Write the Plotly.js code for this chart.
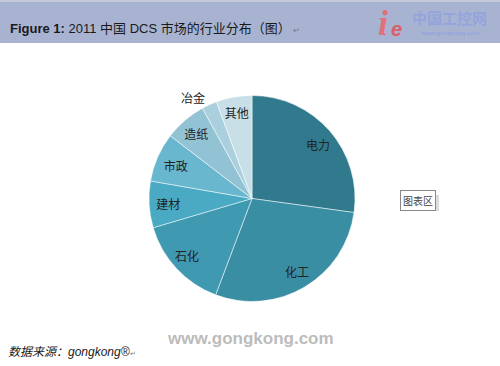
<!DOCTYPE html>
<html>
<head>
<meta charset="utf-8">
<script src="https://cdn.plot.ly/plotly-3.0.1.min.js"></script>
<style>html,body{margin:0;padding:0;background:#fff;}#chart{width:500px;height:366px;}</style>
</head>
<body>
<div id="chart"></div>
<script>
const categories = ["电力", "化工", "石化", "建材", "市政", "造纸", "冶金", "其他"];
const shares = [27.2, 28.6, 14.7, 7.3, 7.7, 6.6, 2.4, 5.6];
const sliceColors = ["#317a8e", "#3a8ea3", "#3f99b1", "#4aaac4", "#69b7ce", "#92c3d4", "#abd0dd", "#c8dfe8"];
const labelPositions = ["none", "none", "none", "inside", "inside", "inside", "outside", "inside"];

const cjk = '"Noto Sans CJK SC", "Liberation Sans", sans-serif';

const data = [{
  type: "pie",
  labels: categories,
  values: shares,
  text: categories,
  textinfo: "text",
  textposition: labelPositions,
  insidetextorientation: "horizontal",
  sort: false,
  direction: "clockwise",
  rotation: 0,
  hole: 0,
  marker: { colors: sliceColors, line: { color: "rgba(255,255,255,0.5)", width: 1 } },
  textfont: { family: cjk, size: 12, color: "#222" },
  insidetextfont: { family: cjk, size: 12, color: "#222" },
  outsidetextfont: { family: cjk, size: 12, color: "#222" },
  domain: { x: [0.298, 0.710], y: [0.1762, 0.7391] },
  showlegend: false,
  hoverinfo: "label+percent"
}];

function sliceLabel(i, px, py) {
  return { xref: "paper", yref: "paper", x: px/500, y: 1 - py/366, xanchor: "center", yanchor: "middle",
           showarrow: false, text: categories[i], font: { family: cjk, size: 12, color: "#222" } };
}

const layout = {
  width: 500, height: 366,
  margin: { l: 0, r: 0, t: 0, b: 0 },
  paper_bgcolor: "#ffffff",
  showlegend: false,
  shapes: [
    { type: "rect", xref: "paper", yref: "paper", x0: 0, x1: 1, y0: 1 - 43/366, y1: 1 - 2/366,
      fillcolor: "#a8b3d2", line: { width: 0 }, layer: "below" },
    { type: "rect", xref: "paper", yref: "paper", x0: 0, x1: 1, y0: 1 - 2/366, y1: 1,
      fillcolor: "#c4cad8", line: { width: 0 }, layer: "below" },
    { type: "rect", xref: "paper", yref: "paper", x0: 402/500, x1: 439/500, y0: 1 - 211/366, y1: 1 - 195/366,
      fillcolor: "#dddddd", line: { width: 0 } }
  ],
  annotations: [
    sliceLabel(0, 318, 144),
    sliceLabel(1, 297, 271),
    sliceLabel(2, 187, 255),
    { xref: "paper", yref: "paper", x: 8/500, y: 1 - 29/366, xanchor: "left", yanchor: "middle", showarrow: false,
      text: "<b>Figure 1:</b> 2011 中国 DCS 市场的行业分布（图）<span style='font-size:8px;color:#777'> ↵</span>",
      font: { family: '"Liberation Sans", "Noto Sans CJK SC", sans-serif', size: 13, color: "#1a1a1a" } },
    { xref: "paper", yref: "paper", x: 383/500, y: 1 - 23/366, xanchor: "center", yanchor: "middle", showarrow: false,
      text: "<b><i>i</i></b>", font: { family: '"Liberation Serif", serif', size: 36, color: "#e0707a" } },
    { xref: "paper", yref: "paper", x: 396/500, y: 1 - 29/366, xanchor: "center", yanchor: "middle", showarrow: false,
      text: "<b><i>e</i></b>", font: { family: '"Liberation Sans", sans-serif', size: 20, color: "#d9606b" } },
    { xref: "paper", yref: "paper", x: 449/500, y: 1 - 17/366, xanchor: "center", yanchor: "middle", showarrow: false,
      text: "<b>中国工控网</b>", font: { family: cjk, size: 15, color: "#94a4dc" } },
    { xref: "paper", yref: "paper", x: 449/500, y: 1 - 33/366, xanchor: "center", yanchor: "middle", showarrow: false,
      text: "<b>www.gongkong.com</b>", font: { family: '"Liberation Sans", sans-serif', size: 6, color: "#94a4dc" } },
    { xref: "paper", yref: "paper", x: 418/500, y: 1 - 200/366, xanchor: "center", yanchor: "middle", showarrow: false,
      text: "图表区", font: { family: cjk, size: 10, color: "#444" },
      bgcolor: "#ffffff", bordercolor: "#888", borderwidth: 1, borderpad: 2 },
    { xref: "paper", yref: "paper", x: 250/500, y: 1 - 338/366, xanchor: "center", yanchor: "middle", showarrow: false,
      text: "<b>www.gongkong.com</b>", font: { family: '"Liberation Sans", sans-serif', size: 17, color: "#bcbcbc" } },
    { xref: "paper", yref: "paper", x: 6/500, y: 1 - 352/366, xanchor: "left", yanchor: "middle", showarrow: false,
      text: "<i>数据来源：gongkong®</i><span style='font-size:7px;color:#777'>↵</span>",
      font: { family: '"Liberation Sans", "Noto Sans CJK SC", sans-serif', size: 12, color: "#1a1a1a" } }
  ]
};

Plotly.newPlot("chart", data, layout, { displayModeBar: false, staticPlot: true });
</script>
</body>
</html>
